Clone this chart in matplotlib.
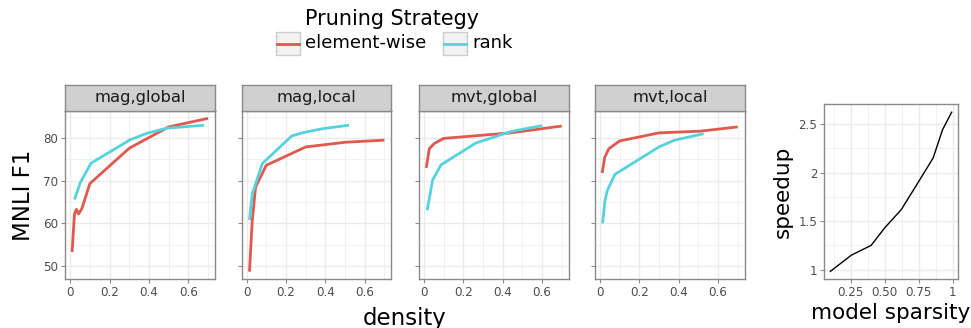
import numpy as np
import matplotlib as mpl
mpl.use("Agg")
import matplotlib.pyplot as plt
from matplotlib.patches import Rectangle
from matplotlib.lines import Line2D
from matplotlib.ticker import MultipleLocator, FixedLocator

# ---------------- data ----------------
panels = ["mag,global", "mag,local", "mvt,global", "mvt,local"]

# element-wise pruning (density, MNLI F1)
ew_density = [
    [0.01, 0.022, 0.032, 0.043, 0.06, 0.10, 0.30, 0.50, 0.70],
    [0.015, 0.029, 0.046, 0.10, 0.30, 0.50, 0.70],
    [0.012, 0.028, 0.053, 0.10, 0.44, 0.70],
    [0.012, 0.025, 0.046, 0.10, 0.30, 0.51, 0.70],
]
ew_f1 = [
    [53.3, 62.2, 63.3, 62.2, 63.5, 69.3, 77.6, 82.6, 84.6],
    [48.7, 60.6, 68.5, 73.6, 77.9, 79.0, 79.5],
    [73.0, 77.5, 78.7, 79.9, 81.2, 82.8],
    [71.8, 75.5, 77.5, 79.3, 81.2, 81.6, 82.6],
]

# rank pruning (density, MNLI F1)
rk_density = [
    [0.022, 0.052, 0.106, 0.305, 0.39, 0.49, 0.68],
    [0.015, 0.029, 0.08, 0.23, 0.30, 0.39, 0.52],
    [0.017, 0.045, 0.087, 0.263, 0.44, 0.60],
    [0.014, 0.026, 0.038, 0.077, 0.30, 0.38, 0.527],
]
rk_f1 = [
    [65.6, 69.6, 74.1, 79.6, 81.1, 82.3, 83.0],
    [60.8, 66.9, 74.0, 80.5, 81.4, 82.2, 83.0],
    [63.1, 70.2, 73.7, 78.8, 81.5, 82.9],
    [60.0, 65.3, 67.7, 71.5, 77.9, 79.5, 81.0],
]

# speedup vs model sparsity
sparsity = [0.10, 0.255, 0.40, 0.50, 0.623, 0.734, 0.857, 0.926, 0.993]
speedup = [0.983, 1.15, 1.25, 1.43, 1.62, 1.87, 2.15, 2.44, 2.62]

# ---------------- style ----------------
RED = "#E0584E"
CYAN = "#55D3DC"
GRID = "#EBEBEB"
BORDER = "#8A8A8A"
TICKC = "#4D4D4D"

W, H = 971, 328
fig = plt.figure(figsize=(W / 100, H / 100), dpi=100)


def px_axes(x0, y0, x1, y1):
    return fig.add_axes([x0 / W, 1 - y1 / H, (x1 - x0) / W, (y1 - y0) / H])


def style_bw(ax):
    ax.set_facecolor("white")
    ax.grid(which="major", color=GRID, lw=1.0, zorder=0)
    ax.grid(which="minor", color=GRID, lw=0.5, zorder=0)
    ax.set_axisbelow(True)
    for s in ax.spines.values():
        s.set_color(BORDER)
        s.set_linewidth(1.0)
    ax.tick_params(which="major", length=3, width=0.8, color=BORDER,
                   labelcolor=TICKC, labelsize=8.6, pad=2)
    ax.tick_params(which="minor", length=0)


def expand(lo, hi, f=0.05):
    r = hi - lo
    return lo - f * r, hi + f * r


allx = [v for s in ew_density + rk_density for v in s]
ally = [v for s in ew_f1 + rk_f1 for v in s]
xlim = expand(min(allx), max(allx))
ylim = expand(min(ally), max(ally))

lefts = [65.3, 241.7, 419.0, 595.0]
pw = 149.5
top, bot = 110.7, 279.3
strip_top = 85.0

for i, name in enumerate(panels):
    x0 = lefts[i]
    ax = px_axes(x0, top, x0 + pw, bot)
    style_bw(ax)
    ax.plot(ew_density[i], ew_f1[i], color=RED, lw=2.0, solid_capstyle="butt", zorder=3)
    ax.plot(rk_density[i], rk_f1[i], color=CYAN, lw=2.0, solid_capstyle="butt", zorder=3)
    ax.set_xlim(*xlim)
    ax.set_ylim(*ylim)
    ax.xaxis.set_major_locator(FixedLocator([0, 0.2, 0.4, 0.6]))
    ax.xaxis.set_minor_locator(FixedLocator([0.1, 0.3, 0.5, 0.7]))
    ax.yaxis.set_major_locator(FixedLocator([50, 60, 70, 80]))
    ax.yaxis.set_minor_locator(FixedLocator([45, 55, 65, 75, 85]))
    ax.set_xticklabels(["0", "0.2", "0.4", "0.6"])
    if i == 0:
        ax.set_yticklabels(["50", "60", "70", "80"])
        ax.set_ylabel("MNLI F1", fontsize=16.5, color="black", labelpad=6)
    else:
        ax.set_yticklabels([])

    # facet strip
    sax = px_axes(x0, strip_top, x0 + pw, top)
    sax.set_xticks([])
    sax.set_yticks([])
    sax.set_facecolor("#D0D0D0")
    for s in sax.spines.values():
        s.set_color(BORDER)
        s.set_linewidth(1.0)
    sax.text(0.5, 0.5, name, ha="center", va="center", fontsize=11.8,
             color="#1A1A1A", transform=sax.transAxes)

fig.text((lefts[0] + lefts[3] + pw) / 2 / W, 1 - 318 / H, "density",
         ha="center", va="center", fontsize=16.5)

# speedup panel
ax2 = px_axes(824.3, 104.3, 957.7, 279.3)
style_bw(ax2)
ax2.plot(sparsity, speedup, color="black", lw=1.0, zorder=3)
ax2.set_xlim(*expand(min(sparsity), max(sparsity)))
ax2.set_ylim(*expand(min(speedup), max(speedup)))
ax2.xaxis.set_major_locator(FixedLocator([0.25, 0.5, 0.75, 1.0]))
ax2.xaxis.set_minor_locator(FixedLocator([0.125, 0.375, 0.625, 0.875]))
ax2.yaxis.set_major_locator(FixedLocator([1, 1.5, 2, 2.5]))
ax2.yaxis.set_minor_locator(FixedLocator([1.25, 1.75, 2.25]))
ax2.set_xticklabels(["0.25", "0.50", "0.75", "1"])
ax2.set_yticklabels(["1", "1.5", "2", "2.5"])
ax2.set_xlabel("model sparsity", fontsize=15.5, labelpad=3)
ax2.set_ylabel("speedup", fontsize=15.5, labelpad=4)

# legend (ggplot-style, drawn in pixel space)
lax = fig.add_axes([0, 0, 1, 1], facecolor="none")
lax.set_xlim(0, W)
lax.set_ylim(H, 0)
lax.axis("off")
lax.text(305, 19, "Pruning Strategy", fontsize=14.9, va="center", ha="left")
for kx, col, lab in [(276, RED, "element-wise"), (443, CYAN, "rank")]:
    lax.add_patch(Rectangle((kx, 32), 24, 23, facecolor="#F2F2F2",
                            edgecolor="#CCCCCC", lw=1.0))
    lax.add_line(Line2D([kx + 1, kx + 23], [43.5, 43.5], color=col, lw=2.0))
    lax.text(kx + 29, 43.5, lab, fontsize=13, va="center", ha="left")

fig.savefig("out.png", dpi=100)
